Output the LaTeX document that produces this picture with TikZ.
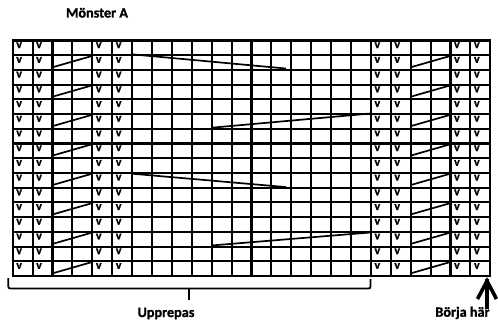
\documentclass[tikz,border=0pt]{standalone}
\usepackage{fontspec}
\setmainfont{Carlito}
\newfontfamily\heavyfont{Carlito}[UprightFeatures={FakeBold=1.2}, BoldFeatures={FakeBold=1.2}]
\begin{document}
\begin{tikzpicture}[x=1pt,y=-1pt]
\tikzset{
  gridline/.style={line width=2.1pt, black},
  stitch/.style={line width=1.7pt, black},
  vmark/.style={font=\heavyfont\bfseries\fontsize{12}{14}\selectfont, anchor=base west, inner sep=0pt},
  lbl/.style={font=\heavyfont\bfseries\fontsize{14.2}{16}\selectfont, inner sep=0pt, anchor=base},
  brace/.style={line width=1.8pt, black, rounded corners=2pt},
  bigarrow/.style={line width=3.6pt, black, line join=miter}
}
\useasboundingbox (0,0) rectangle (498,321);
\def\gx{12.7}\def\cw{19.9}\def\gy{40.5}\def\rh{14.72}
% grid
\foreach \i in {0,...,24}
  \draw[gridline] ({\gx+\i*\cw},\gy) -- ({\gx+\i*\cw},{\gy+16*\rh});
\foreach \j in {0,...,16}
  \draw[gridline] ({\gx-1.05},{\gy+\j*\rh}) -- ({\gx+24*\cw+1.05},{\gy+\j*\rh});
% v marks
\foreach \c in {1,2,5,6,19,20,23,24}
  \foreach \r in {1,...,16}
    \node[vmark] (v-\c-\r) at ({\gx+(\c-1)*\cw+3.4},{\gy+(\r-1)*\rh+7.6}) {v};
% short diagonals
\foreach \r in {2,4,...,16} {
  \draw[stitch] ({\gx+2*\cw+0.5},{\gy+\r*\rh-2.8}) -- ({\gx+4*\cw-0.5},{\gy+(\r-1)*\rh+0.8});
  \draw[stitch] ({\gx+20*\cw+0.5},{\gy+\r*\rh-2.8}) -- ({\gx+22*\cw-0.5},{\gy+(\r-1)*\rh+0.8});
}
% long lines
\draw[stitch] ({\gx+6*\cw+1},{\gy+1*\rh-0.8}) -- (286,{\gy+2*\rh-1.4});
\draw[stitch] ({\gx+10*\cw+1},{\gy+6*\rh-1.2}) -- ({\gx+18*\cw-0.5},{\gy+5*\rh-0.6});
\draw[stitch] ({\gx+6*\cw+1},{\gy+9*\rh+0.8}) -- (286,{\gy+10*\rh-0.6});
\draw[stitch] ({\gx+10*\cw+1},{\gy+14*\rh-1.2}) -- ({\gx+18*\cw-0.5},{\gy+13*\rh+0.6});
% brace
\coordinate (bl) at (8.3,278);
\coordinate (br) at (370.5,279);
\coordinate (bm) at (189,288.5);
\coordinate (bt) at (189,300);
\draw[brace] (bl) -- (8.3,288.5) -- (370.5,288.5) -- (br);
\draw[line width=2.4pt] (bm) -- (bt);
% labels
\node[lbl] (title) at (97,17.5) {Mönster A};
\node[lbl] (rep) at (166,317) {Upprepas};
\node[lbl] (start) at (462.5,316.7) {Börja här};
% arrow
\coordinate (abot) at (487,309);
\coordinate (atop) at (487,279);
\draw[line width=3.4pt] (abot) -- (atop);
\draw[bigarrow] (477.5,299) -- (487,281) -- (496.5,299);
\end{tikzpicture}
\end{document}
